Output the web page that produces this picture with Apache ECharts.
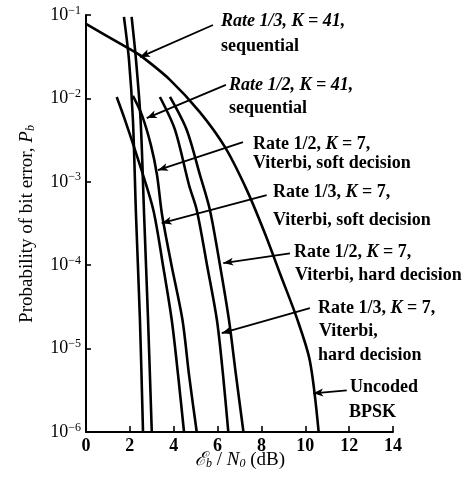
<!DOCTYPE html>
<html><head><meta charset="utf-8">
<script src="https://cdn.jsdelivr.net/npm/echarts/dist/echarts.min.js"></script>
<style>html,body{margin:0;padding:0;background:#fff}#c{width:469px;height:480px}</style>
</head><body><div id="c"></div>
<script>
// ---- data (Eb/N0 in dB, bit error probability) ----
const uncodedX = [0, 1.0, 2.0, 2.46, 3.83, 5.20, 6.34, 7.34, 8.16, 8.85, 9.62, 10.21, 10.61];
const uncodedPb = [7.8e-2, 5.5e-2, 3.9e-2, 3.3e-2, 1.67e-2, 6.8e-3, 2.6e-3, 7.9e-4, 2.4e-4, 7.9e-5, 2.3e-5, 7.1e-6, 1.0e-6];

const seq13X = [1.73, 1.96, 2.14, 2.28, 2.46, 2.60];
const seq12X = [2.08, 2.28, 2.49, 2.65, 2.83, 3.00];
const seqPb = [9.5e-2, 2.9e-2, 5.5e-3, 4.0e-4, 2.2e-5, 1.0e-6];

const soft13X = [1.40, 1.78, 2.46, 3.07, 3.51, 3.91, 4.20, 4.47];
const soft13Pb = [1.04e-2, 5.5e-3, 1.58e-3, 4.6e-4, 1.0e-4, 2.2e-5, 4.8e-6, 1.0e-6];

const soft12X = [2.14, 2.55, 2.96, 3.24, 3.47, 3.90, 4.40, 4.70, 5.05];
const soft12Pb = [1.07e-2, 6.3e-3, 2.75e-3, 1.2e-3, 4.0e-4, 1.0e-4, 2.2e-5, 4.8e-6, 1.0e-6];

const hard13X = [3.37, 4.06, 4.70, 5.05, 5.52, 5.97, 6.25, 6.49];
const hard12X = [3.83, 4.59, 5.20, 5.65, 6.11, 6.52, 6.84, 7.18];
const hard13Pb = [1.04e-2, 4.2e-3, 9.1e-4, 4.6e-4, 1.0e-4, 2.2e-5, 4.8e-6, 1.0e-6];
const hard12Pb = [1.04e-2, 4.2e-3, 1.2e-3, 4.6e-4, 1.0e-4, 2.2e-5, 4.8e-6, 1.0e-6];

const xTicks = [0, 2, 4, 6, 8, 10, 12, 14];
const yExponents = [-6, -5, -4, -3, -2, -1];

// arrow annotations: [fromX, fromPb, toX, toPb]
const arrows = [
  [5.79, 7.59e-2, 2.46, 3.13e-2],
  [6.38, 1.45e-2, 2.77, 5.81e-3],
  [7.16, 2.99e-3, 3.28, 1.38e-3],
  [8.24, 6.9e-4, 3.45, 3.19e-4],
  [9.30, 1.39e-4, 6.26, 1.06e-4],
  [10.21, 3.05e-5, 6.19, 1.53e-5],
  [11.89, 3.16e-6, 10.36, 2.91e-6]
];

const SERIF = '"Liberation Serif","DejaVu Serif",serif';
function pairs(xs, ys) { return xs.map((x, i) => [x, ys[i]]); }
function curve(name, xs, ys, extra) {
  return Object.assign({
    name, type: 'line', data: pairs(xs, ys), showSymbol: false, smooth: 0.3,
    lineStyle: { color: '#000', width: 2.6 }, animation: false, silent: true, z: 3
  }, extra || {});
}

const richBase = {
  n: { fontFamily: SERIF, fontSize: 18, fontWeight: 'bold', color: '#000' },
  i: { fontFamily: SERIF, fontSize: 18, fontWeight: 'bold', fontStyle: 'italic', color: '#000' },
};
function lbl(x, y, text) {
  return { type: 'text', x, y, silent: true,
    style: { text, fill: '#000', font: 'bold 18px ' + SERIF, verticalAlign: 'middle', align: 'left', rich: richBase } };
}

const labels = [
  lbl(221, 21, '{i|Rate 1/3, K = 41,}'),
  lbl(221, 46, '{n|sequential}'),
  lbl(229, 85, '{i|Rate 1/2, K = 41,}'),
  lbl(229, 108, '{n|sequential}'),
  lbl(253, 144, '{n|Rate 1/2, }{i|K}{n| = 7,}'),
  lbl(253, 163, '{n|Viterbi, soft decision}'),
  lbl(273, 192, '{n|Rate 1/3, }{i|K}{n| = 7,}'),
  lbl(273, 220, '{n|Viterbi, soft decision}'),
  lbl(294, 252, '{n|Rate 1/2, }{i|K}{n| = 7,}'),
  lbl(295, 275, '{n|Viterbi, hard decision}'),
  lbl(318, 308, '{n|Rate 1/3, }{i|K}{n| = 7,}'),
  lbl(319, 331, '{n|Viterbi,}'),
  lbl(318, 355, '{n|hard decision}'),
  lbl(350, 387, '{n|Uncoded}'),
  lbl(349, 412, '{n|BPSK}')
];

const axisTitles = [
  { type: 'text', x: 27, y: 224, rotation: Math.PI / 2, silent: true,
    style: { text: '{r|Probability of bit error, }{p|P}{s|b}', align: 'center', verticalAlign: 'middle',
      rich: { r: { fontFamily: SERIF, fontSize: 19, color: '#000' },
              p: { fontFamily: SERIF, fontSize: 19, fontStyle: 'italic', color: '#000' },
              s: { fontFamily: SERIF, fontSize: 12, fontStyle: 'italic', color: '#000', padding: [8, 0, 0, 0] } } } },
  { type: 'text', x: 240, y: 460, silent: true,
    style: { text: '{e|ℰ}{s|b}{r| / }{e|N}{s|0}{r| (dB)}', align: 'center', verticalAlign: 'middle',
      rich: { e: { fontFamily: SERIF, fontSize: 19, fontStyle: 'italic', color: '#000' },
              r: { fontFamily: SERIF, fontSize: 19, color: '#000' },
              s: { fontFamily: SERIF, fontSize: 12, fontStyle: 'italic', color: '#000', padding: [8, 0, 0, 0] } } } }
];

const chart = echarts.init(document.getElementById('c'), null, { renderer: 'canvas' });
chart.setOption({
  animation: false,
  backgroundColor: '#fff',
  grid: { left: 86, right: 76, top: 15, bottom: 48, containLabel: false },
  xAxis: {
    type: 'value', min: xTicks[0], max: xTicks[xTicks.length - 1], interval: 2,
    axisLine: { show: true, lineStyle: { color: '#000', width: 2 } },
    axisTick: { show: true, inside: true, length: 6, lineStyle: { color: '#000', width: 1.6 } },
    axisLabel: { color: '#000', fontFamily: SERIF, fontSize: 18, fontWeight: 'bold', margin: 5 },
    splitLine: { show: false }
  },
  yAxis: {
    type: 'log', logBase: 10, min: Math.pow(10, yExponents[0]), max: Math.pow(10, yExponents[yExponents.length - 1]),
    axisLine: { show: true, lineStyle: { color: '#000', width: 2 } },
    axisTick: { show: true, inside: true, length: 5, lineStyle: { color: '#000', width: 1.6 } },
    minorTick: { show: false },
    axisLabel: {
      margin: 5,
      formatter: v => '{b|10}{s|' + String(Math.round(Math.log10(v))).replace('-', '−') + '}',
      rich: { b: { fontFamily: SERIF, fontSize: 18, color: '#000' },
              s: { fontFamily: SERIF, fontSize: 12, color: '#000', padding: [0, 0, 9, 0] } }
    },
    splitLine: { show: false }
  },
  graphic: labels.concat(axisTitles),
  series: [
    curve('Uncoded BPSK', uncodedX, uncodedPb, {
      markLine: {
        silent: true, animation: false, symbol: ['none', 'arrow'], symbolSize: [6, 10],
        lineStyle: { color: '#000', width: 1.8, type: 'solid' }, label: { show: false },
        data: arrows.map(a => [{ coord: [a[0], a[1]] }, { coord: [a[2], a[3]] }])
      }
    }),
    curve('Rate 1/3, K=41, sequential', seq13X, seqPb),
    curve('Rate 1/2, K=41, sequential', seq12X, seqPb),
    curve('Rate 1/3, K=7, soft', soft13X, soft13Pb),
    curve('Rate 1/2, K=7, soft', soft12X, soft12Pb),
    curve('Rate 1/3, K=7, hard', hard13X, hard13Pb),
    curve('Rate 1/2, K=7, hard', hard12X, hard12Pb)
  ]
});
</script></body></html>
